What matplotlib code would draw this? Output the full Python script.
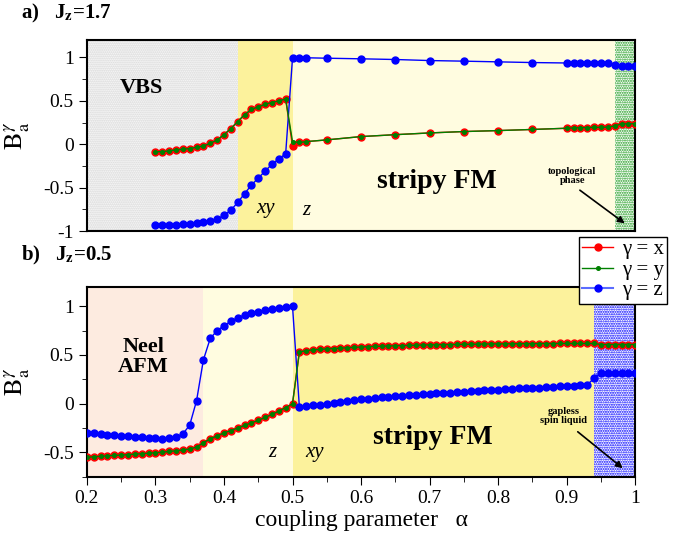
import matplotlib
matplotlib.use('Agg')
import matplotlib.pyplot as plt
from matplotlib.ticker import MultipleLocator
from matplotlib.lines import Line2D

plt.rcParams['font.family'] = ['Liberation Serif', 'DejaVu Serif']
plt.rcParams['mathtext.fontset'] = 'stix'
plt.rcParams['hatch.linewidth'] = 1.0

# ---- panel a) Jz = 1.7 ----
alpha_a = [0.30, 0.31, 0.32, 0.33, 0.34, 0.35, 0.36, 0.37, 0.38, 0.39,
           0.40, 0.41, 0.42, 0.43, 0.44, 0.45, 0.46, 0.47, 0.48, 0.49,
           0.50, 0.51, 0.52, 0.55, 0.60, 0.65, 0.70, 0.75, 0.80, 0.85,
           0.90, 0.91, 0.92, 0.93, 0.94, 0.95, 0.96, 0.97, 0.98, 0.99, 1.00]
bx_a = [-0.088, -0.085, -0.077, -0.065, -0.058, -0.05, -0.035, -0.02, 0.01, 0.05,
        0.11, 0.18, 0.26, 0.34, 0.40, 0.43, 0.46, 0.48, 0.50, 0.52,
        -0.02, 0.02, 0.03, 0.05, 0.088, 0.11, 0.13, 0.146, 0.157, 0.17,
        0.184, 0.188, 0.19, 0.192, 0.194, 0.195, 0.197, 0.21, 0.235, 0.235, 0.235]
by_a = [-0.088, -0.085, -0.077, -0.065, -0.058, -0.05, -0.035, -0.02, 0.01, 0.05,
        0.11, 0.18, 0.26, 0.34, 0.40, 0.43, 0.46, 0.48, 0.50, 0.52,
        0.03, 0.02, 0.03, 0.05, 0.088, 0.11, 0.13, 0.146, 0.157, 0.17,
        0.184, 0.188, 0.19, 0.192, 0.194, 0.195, 0.197, 0.21, 0.235, 0.235, 0.235]
bz_a = [-0.93, -0.93, -0.93, -0.925, -0.92, -0.915, -0.905, -0.89, -0.88, -0.86,
        -0.82, -0.76, -0.67, -0.57, -0.47, -0.39, -0.31, -0.23, -0.17, -0.11,
        0.99, 0.995, 0.995, 0.99, 0.983, 0.975, 0.963, 0.956, 0.948, 0.94,
        0.935, 0.935, 0.934, 0.933, 0.932, 0.931, 0.93, 0.915, 0.90, 0.90, 0.90]

# ---- panel b) Jz = 0.5 ----
alpha_b = [round(0.2 + 0.01 * i, 2) for i in range(81)]
bx_b = [-0.55, -0.545, -0.54, -0.535, -0.53, -0.527, -0.523, -0.518, -0.513, -0.508,
        -0.503, -0.498, -0.49, -0.483, -0.475, -0.465, -0.445, -0.40, -0.36, -0.33,
        -0.30, -0.275, -0.25, -0.222, -0.197, -0.17, -0.14, -0.11, -0.075, -0.04,
        0.0, 0.53, 0.545, 0.552, 0.557, 0.562, 0.566, 0.57, 0.574, 0.578,
        0.582, 0.585, 0.588, 0.59, 0.592, 0.594, 0.596, 0.598, 0.6, 0.602,
        0.604, 0.605, 0.606, 0.607, 0.608, 0.609, 0.61, 0.611, 0.612, 0.613,
        0.614, 0.614, 0.615, 0.615, 0.616, 0.616, 0.617, 0.617, 0.617, 0.618,
        0.618, 0.618, 0.618, 0.618, 0.618, 0.607, 0.607, 0.607, 0.607, 0.607, 0.607]
by_b = list(bx_b)
bz_b = [-0.30, -0.305, -0.31, -0.318, -0.325, -0.33, -0.335, -0.34, -0.345, -0.35,
        -0.355, -0.358, -0.355, -0.345, -0.31, -0.22, 0.03, 0.45, 0.67, 0.75,
        0.80, 0.845, 0.88, 0.91, 0.93, 0.945, 0.96, 0.975, 0.985, 0.995,
        1.0, -0.03, -0.02, -0.015, -0.01, 0.0, 0.01, 0.02, 0.028, 0.037,
        0.045, 0.052, 0.058, 0.064, 0.07, 0.075, 0.08, 0.085, 0.09, 0.095,
        0.10, 0.105, 0.11, 0.115, 0.12, 0.124, 0.128, 0.132, 0.136, 0.14,
        0.145, 0.149, 0.153, 0.157, 0.16, 0.163, 0.166, 0.17, 0.173, 0.177,
        0.18, 0.185, 0.19, 0.195, 0.26, 0.32, 0.32, 0.32, 0.32, 0.32, 0.32]

x_ticks = [0.2, 0.3, 0.4, 0.5, 0.6, 0.7, 0.8, 0.9, 1.0]
x_ticklabels = ['0.2', '0.3', '0.4', '0.5', '0.6', '0.7', '0.8', '0.9', '1']
legend_labels = ['γ = x', 'γ = y', 'γ = z']

light_yellow = '#fffce0'
yellow = '#fcf29c'
pink = '#fdebe0'

fig = plt.figure(figsize=(6.95, 5.4), dpi=100)
ax1 = fig.add_axes([0.125, 0.572, 0.789, 0.354])
ax2 = fig.add_axes([0.125, 0.117, 0.789, 0.352])


def draw_lines(ax, a, bx, by, bz):
    ax.plot(a, bx, '-o', color='red', ms=5.0, lw=1.0, zorder=3)
    ax.plot(a, by, '-o', color='green', ms=2.6, lw=1.0, zorder=4)
    ax.plot(a, bz, '-o', color='blue', ms=5.0, lw=1.0, zorder=3)


# panel a
ax1.axvspan(0.2, 0.42, facecolor='white', edgecolor='#d0d0d0', hatch='........', lw=0, zorder=0)
ax1.axvspan(0.42, 0.5, facecolor=yellow, lw=0, zorder=0)
ax1.axvspan(0.5, 0.97, facecolor=light_yellow, lw=0, zorder=0)
ax1.axvspan(0.97, 1.0, facecolor='white', edgecolor='#1a9a1a', hatch='.......', lw=0, zorder=0)
draw_lines(ax1, alpha_a, bx_a, by_a, bz_a)
ax1.set_xlim(0.2, 1.0)
ax1.set_ylim(-1, 1.2)
ax1.set_xticks([])
ax1.set_yticks([-1, -0.5, 0, 0.5, 1])
ax1.set_yticklabels(['-1', '-0.5', '0', '0.5', '1'])
ax1.yaxis.set_minor_locator(MultipleLocator(0.25))
ax1.text(0.28, 0.65, 'VBS', fontsize=16, fontweight='bold', ha='center', va='center')
ax1.text(0.461, -0.74, 'xy', fontsize=15, style='italic', ha='center', va='center')
ax1.text(0.52, -0.76, 'z', fontsize=15, style='italic', ha='center', va='center')
ax1.text(0.71, -0.43, 'stripy FM', fontsize=20, fontweight='bold', ha='center', va='center')
ax1.text(0.908, -0.37, 'topological\nphase', fontsize=7.5, fontweight='bold',
         ha='center', va='center', linespacing=1.0)
ax1.annotate('', xy=(0.988, -0.93), xytext=(0.916, -0.51),
             arrowprops=dict(arrowstyle='-|>', color='black', lw=1.2, mutation_scale=10))

# panel b
ax2.axvspan(0.2, 0.37, facecolor=pink, lw=0, zorder=0)
ax2.axvspan(0.37, 0.5, facecolor=light_yellow, lw=0, zorder=0)
ax2.axvspan(0.5, 0.94, facecolor=yellow, lw=0, zorder=0)
ax2.axvspan(0.94, 1.0, facecolor='white', edgecolor='blue', hatch='.......', lw=0, zorder=0)
draw_lines(ax2, alpha_b, bx_b, by_b, bz_b)
ax2.set_xlim(0.2, 1.0)
ax2.set_ylim(-0.75, 1.2)
ax2.set_xticks(x_ticks)
ax2.set_xticklabels(x_ticklabels)
ax2.xaxis.set_minor_locator(MultipleLocator(0.05))
ax2.set_yticks([-0.5, 0, 0.5, 1])
ax2.set_yticklabels(['-0.5', '0', '0.5', '1'])
ax2.yaxis.set_minor_locator(MultipleLocator(0.25))
ax2.text(0.282, 0.48, 'Neel\nAFM', fontsize=16, fontweight='bold', ha='center', va='center',
         linespacing=1.05)
ax2.text(0.47, -0.5, 'z', fontsize=15, style='italic', ha='center', va='center')
ax2.text(0.532, -0.5, 'xy', fontsize=15, style='italic', ha='center', va='center')
ax2.text(0.704, -0.35, 'stripy FM', fontsize=20, fontweight='bold', ha='center', va='center')
ax2.text(0.896, -0.13, 'gapless\nspin liquid', fontsize=7.5, fontweight='bold',
         ha='center', va='center', linespacing=1.0)
ax2.annotate('', xy=(0.985, -0.68), xytext=(0.913, -0.27),
             arrowprops=dict(arrowstyle='-|>', color='black', lw=1.2, mutation_scale=10))

for ax in (ax1, ax2):
    ax.tick_params(which='both', direction='out', labelsize=14, top=False, right=False)
    ax.tick_params(which='major', length=6)
    ax.tick_params(which='minor', length=3.5)
    for s in ax.spines.values():
        s.set_linewidth(1.5)
    ax.set_ylabel(r'$\mathrm{B}_\mathrm{a}^{\gamma}$', fontsize=19)
    ax.yaxis.set_label_coords(-0.1, 0.5)

ax2.set_xlabel('coupling parameter   α', fontsize=17, labelpad=2)

fig.text(0.03, 0.975, r'a)   J$_\mathbf{z}$=1.7', fontsize=15, fontweight='bold', va='center')
fig.text(0.03, 0.527, r'b)   J$_\mathbf{z}$=0.5', fontsize=15, fontweight='bold', va='center')

# legend sits between the two panels, sticking out to the right
handles = [Line2D([], [], color='red', marker='o', ms=5.0, lw=1.0),
           Line2D([], [], color='green', marker='o', ms=2.6, lw=1.0),
           Line2D([], [], color='#5a6cff', marker='o', mfc='blue', mec='blue', ms=5.0, lw=1.5)]
leg = fig.legend(handles, legend_labels,
                 loc='upper left', bbox_to_anchor=(0.833, 0.562), fontsize=15,
                 fancybox=False, edgecolor='black', framealpha=1, handlelength=1.5,
                 handletextpad=0.4, borderpad=0.15, labelspacing=0.05, borderaxespad=0)
leg.get_frame().set_linewidth(1.0)
leg.set_zorder(10)

fig.savefig('out.png', dpi=100)
